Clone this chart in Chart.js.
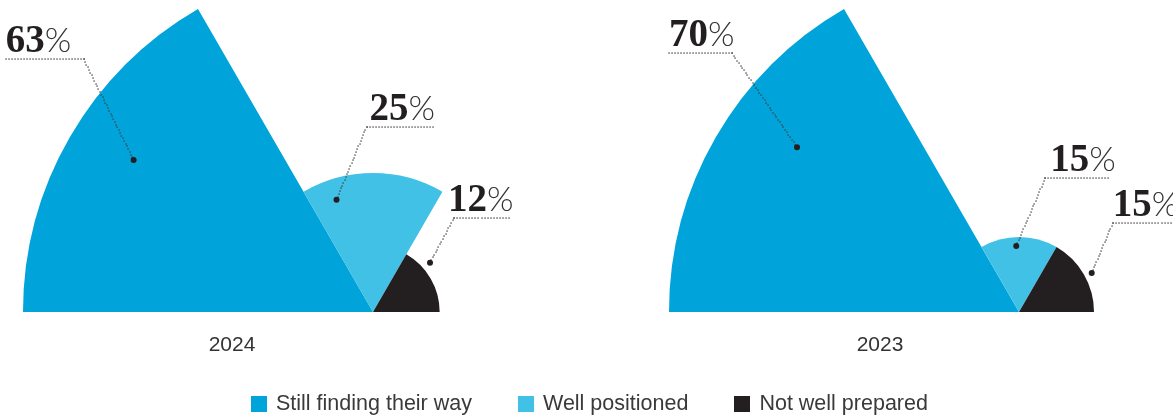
<!DOCTYPE html>
<html>
<head>
<meta charset="utf-8">
<script src="https://cdn.jsdelivr.net/npm/chart.js@4"></script>
<style>
  html, body { margin: 0; padding: 0; overflow: hidden; background: #fff; }
  #stage { position: relative; width: 1173px; height: 419px; overflow: hidden; }
  #stage canvas { position: absolute; left: 0; top: -38px; }
  .year { position: absolute; top: 332px; width: 120px; margin-left: -60px; text-align: center;
          font: 21px "Liberation Sans", Arial, sans-serif; color: #333; }
  #legend { position: absolute; top: 391px; left: 251px; display: flex; white-space: nowrap;
            font: 21.5px "Liberation Sans", Arial, sans-serif; color: #3a3a3a; }
  #legend span.item { display: flex; align-items: center; margin-right: 46px; }
  #legend span.box { width: 16px; height: 16px; margin-right: 9px; display: inline-block; }
</style>
</head>
<body>
<div id="stage">
  <canvas id="chart-2024" width="1400" height="700"></canvas>
  <canvas id="chart-2023" width="1400" height="700"></canvas>
  <div class="year" id="year-2024" style="left:232px"></div>
  <div class="year" id="year-2023" style="left:880px"></div>
  <div id="legend"></div>
</div>
<script>
const categories = ["Still finding their way", "Well positioned", "Not well prepared"];
const years = ["2024", "2023"];
const values2024 = [63, 25, 12];
const values2023 = [70, 15, 15];
const sliceColors = ["#00a3da", "#42c1e7", "#231f20"];

// where the dot sits in each slice and where the leader line bends
const callouts2024 = [
  { t: 0.54, r: 0.81, dx: -50, dy: -101, dir: -1, len: 78, lx: 0 },
  { t: 0.20, r: 0.85, dx: 30, dy: -73, dir: 1, len: 66, lx: 3 },
  { t: 0.32, r: 1.13, dx: 24, dy: -45, dir: 1, len: 55, lx: -6 }
];
const callouts2023 = [
  { t: 0.61, r: 0.79, dx: -65, dy: -94, dir: -1, len: 63, lx: 0 },
  { t: 0.46, r: 0.88, dx: 29, dy: -68, dir: 1, len: 63, lx: 5 },
  { t: 0.53, r: 1.10, dx: 21, dy: -50, dir: 1, len: 61, lx: 0 }
];

const dotted = (ctx, x1, y1, x2, y2) => {
  const dist = Math.hypot(x2 - x1, y2 - y1);
  const n = Math.floor(dist / 3);
  for (let k = 0; k <= n; k++) {
    const x = x1 + (x2 - x1) * k / n;
    const y = y1 + (y2 - y1) * k / n;
    ctx.fillRect(Math.round(x) - 0.6, Math.round(y) - 0.6, 1.3, 1.3);
  }
};

const calloutPlugin = {
  id: "callouts",
  afterDatasetsDraw(chart, args, opts) {
    const ctx = chart.ctx;
    const meta = chart.getDatasetMeta(0);
    const values = chart.data.datasets[0].data;
    ctx.save();
    meta.data.forEach((arc, i) => {
      const lay = opts.layout[i];
      const p = arc.getProps(["x", "y", "startAngle", "endAngle", "outerRadius"], true);
      const a = p.startAngle + (p.endAngle - p.startAngle) * lay.t;
      const px = p.x + Math.cos(a) * p.outerRadius * lay.r;
      const py = p.y + Math.sin(a) * p.outerRadius * lay.r;
      const ex = px + lay.dx, ey = py + lay.dy;
      const lineLeft = lay.dir > 0 ? ex : ex - lay.len;
      ctx.fillStyle = "#3a3a3a";
      dotted(ctx, px, py, ex, ey);
      dotted(ctx, ex, ey, ex + lay.dir * lay.len, ey);
      ctx.fillStyle = "#231f20";
      ctx.beginPath();
      ctx.arc(px, py, 3, 0, Math.PI * 2);
      ctx.fill();
      // value label: heavy serif digits + thin sans percent sign
      const num = String(values[i]);
      ctx.textBaseline = "alphabetic";
      ctx.font = "bold 39px 'Liberation Serif', serif";
      const bx = lineLeft + lay.lx, by = ey - 7;
      ctx.fillText(num, bx, by);
      const w = ctx.measureText(num).width;
      ctx.font = "300 34px Lato, 'Open Sans', sans-serif";
      ctx.fillStyle = "#333";
      ctx.fillText("%", bx + w, by);
    });
    ctx.restore();
  }
};

const makeChart = (id, values, centerX, layout) => {
  const ctx = document.getElementById(id).getContext("2d");
  return new Chart(ctx, {
    type: "polarArea",
    data: {
      labels: categories,
      datasets: [{
        data: values,
        backgroundColor: sliceColors,
        borderWidth: 0,
        angle: 180 / values.length
      }]
    },
    options: {
      responsive: false,
      animation: false,
      events: [],
      layout: { padding: { left: centerX - 350, right: 1400 - (centerX + 350), top: 0, bottom: 0 } },
      scales: {
        r: { display: false, startAngle: -90, min: 0, max: Math.max(...values) }
      },
      plugins: {
        legend: { display: false },
        tooltip: { enabled: false },
        callouts: { layout: layout }
      }
    },
    plugins: [calloutPlugin]
  });
};

makeChart("chart-2024", values2024, 373, callouts2024);
makeChart("chart-2023", values2023, 1019, callouts2023);

document.getElementById("year-2024").textContent = years[0];
document.getElementById("year-2023").textContent = years[1];

const legend = document.getElementById("legend");
categories.forEach((label, i) => {
  const item = document.createElement("span");
  item.className = "item";
  item.innerHTML = `<span class="box" style="background:${sliceColors[i]}"></span>${label}`;
  legend.appendChild(item);
});
</script>
</body>
</html>
